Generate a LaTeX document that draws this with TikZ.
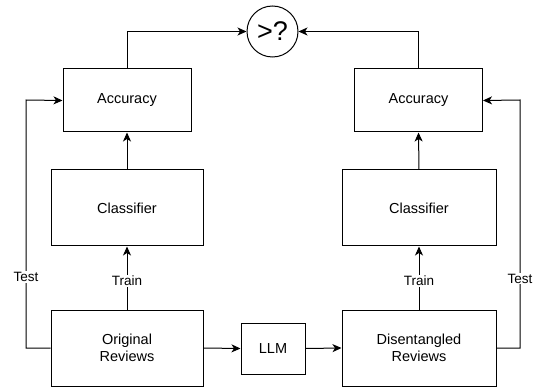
\documentclass[tikz,border=0pt]{standalone}
\usepackage{fontspec}
\setmainfont{Liberation Sans}
\usetikzlibrary{arrows.meta}
\begin{document}
\begin{tikzpicture}[x=1pt,y=-1pt,
  box/.style={draw, line width=1pt, minimum width=#1, inner sep=0pt, align=center, font=\fontsize{14.5}{17}\selectfont},
  conn/.style={line width=1pt, -{Stealth[length=9pt,width=8pt,inset=2.5pt]}},
  lbl/.style={fill=white, inner sep=1pt, font=\fontsize{13.5}{16}\selectfont}]
\useasboundingbox (0,0) rectangle (533,390);
% boxes
\node[box=128pt, minimum height=63pt] (accL) at (127,100.5) {Accuracy};
\node[box=128pt, minimum height=63pt] (accR) at (418.5,100.5) {Accuracy};
\node[box=152pt, minimum height=76pt] (clsL) at (127,208) {Classifier};
\node[box=154pt, minimum height=76pt] (clsR) at (419,208) {Classifier};
\node[box=152pt, minimum height=76pt] (origL) at (127,348) {Original\\Reviews};
\node[box=154pt, minimum height=76pt] (dis) at (419,348) {Disentangled\\Reviews};
\node[box=64pt, minimum height=51pt] (llm) at (273,348.5) {LLM};
\node[draw, line width=1pt, circle, minimum size=51pt, inner sep=0pt, font=\fontsize{27}{30}\selectfont] (cmp) at (272.5,31.5) {>?};
% coordinates
\coordinate (tl) at (26,100);
\coordinate (bl) at (26,348);
\coordinate (tr) at (520,100);
\coordinate (br) at (520,348);
% connectors
\draw[conn] (accL.north) |- (cmp.west);
\draw[conn] (accR.north) |- (cmp.east);
\draw[conn] (clsL.north) -- (accL.south);
\draw[conn] (clsR.north) -- (accR.south);
\draw[conn] (origL.north) -- node[lbl, pos=0.45] {Train} (clsL.south);
\draw[conn] (dis.north) -- node[lbl, pos=0.45] {Train} (clsR.south);
\draw[conn] (origL.east) -- (llm.west);
\draw[conn] (llm.east) -- (dis.west);
\draw[conn] (origL.west) -- (bl) -- node[lbl, pos=0.286] {Test} (tl) -- (accL.west);
\draw[conn] (dis.east) -- (br) -- node[lbl, pos=0.28] {Test} (tr) -- (accR.east);
\end{tikzpicture}
\end{document}
